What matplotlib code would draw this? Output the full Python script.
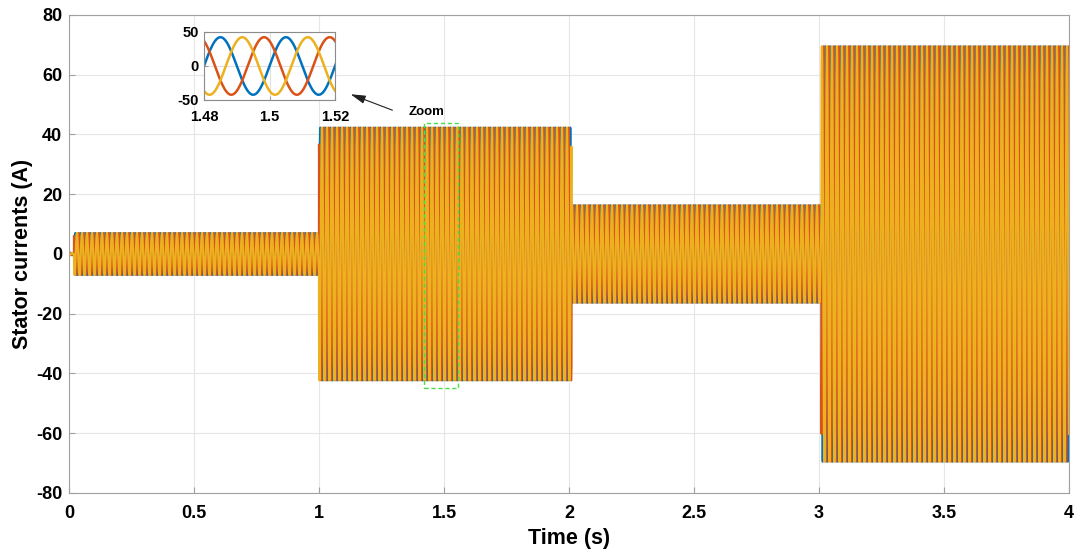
import numpy as np
import matplotlib

matplotlib.use("Agg", force=True)
import matplotlib.pyplot as plt
from matplotlib.patches import Rectangle

# load steps of the machine: start time (s) and peak stator current (A)
seg_start = [0.0, 0.02, 1.0, 2.01, 3.01]
seg_amp = [0.4, 7.0, 42.3, 16.3, 69.5]
t_end = 4.0
freq_hz = 50.0
phase_deg = [0.0, 120.0, -120.0]          # phases a, b, c
phase_colors = ["#0072BD", "#D95319", "#EDB120"]

x_ticks = [0, 0.5, 1, 1.5, 2, 2.5, 3, 3.5, 4]
x_tick_labels = ["0", "0.5", "1", "1.5", "2", "2.5", "3", "3.5", "4"]
y_ticks = [-80, -60, -40, -20, 0, 20, 40, 60, 80]

zoom_window = (1.48, 1.52)
zoom_ticks = [1.48, 1.5, 1.52]
zoom_tick_labels = ["1.48", "1.5", "1.52"]
zoom_yticks = [-50, 0, 50]
zoom_box = (1.42, 1.555, -45, 44)

plt.rcParams["font.family"] = ["Liberation Sans", "DejaVu Sans"]
plt.rcParams["font.weight"] = "bold"
plt.rcParams["axes.unicode_minus"] = False

t = np.linspace(0, t_end, 40001)
amp = np.zeros_like(t)
for start, a in zip(seg_start, seg_amp):
    amp[t >= start] = a
currents = [amp * np.sin(2 * np.pi * freq_hz * t + np.deg2rad(p)) for p in phase_deg]

fig = plt.figure(figsize=(10.75, 5.53), dpi=100)
ax = fig.add_axes([0.0642, 0.1085, 0.9302, 0.8644])
for cur, col in zip(currents, phase_colors):
    ax.plot(t, cur, color=col, lw=1.6)

ax.set_xlim(0, 4)
ax.set_ylim(-80, 80)
ax.set_xticks(x_ticks)
ax.set_xticklabels(x_tick_labels)
ax.set_yticks(y_ticks)
ax.tick_params(direction="in", labelsize=13, length=4, color="#a0a0a0")
ax.tick_params(axis="x", pad=9)
ax.tick_params(axis="y", pad=5)
ax.grid(True, color="#e6e6e6", lw=0.8)
ax.set_axisbelow(True)
for s in ax.spines.values():
    s.set_color("#a0a0a0")
ax.set_xlabel("Time (s)", fontsize=15.5, fontweight="bold", labelpad=4)
ax.set_ylabel("Stator currents (A)", fontsize=15.5, fontweight="bold", labelpad=2)

x0, x1, y0, y1 = zoom_box
ax.add_patch(Rectangle((x0, y0), x1 - x0, y1 - y0, fill=False, ec="#44e044",
                       ls=(0, (3, 2)), lw=1.0, zorder=5))
ax.annotate("", xy=(1.116, 53.8), xytext=(1.304, 47.8),
            arrowprops=dict(arrowstyle="-|>,head_length=0.9,head_width=0.25",
                            color="#202020", lw=0.8))
ax.text(1.43, 47.6, "Zoom", fontsize=9.5, fontweight="bold", ha="center", va="center")

# inset
axin = fig.add_axes([0.1898, 0.8192, 0.1219, 0.123])
mask = (t >= zoom_window[0] - 0.001) & (t <= zoom_window[1] + 0.001)
for cur, col in zip(currents, phase_colors):
    axin.plot(t[mask], cur[mask], color=col, lw=1.8)
axin.set_xlim(*zoom_window)
axin.set_ylim(-50, 50)
axin.set_xticks(zoom_ticks)
axin.set_xticklabels(zoom_tick_labels)
axin.set_yticks(zoom_yticks)
axin.tick_params(direction="in", labelsize=10.5, length=3, color="#a0a0a0")
axin.tick_params(axis="x", pad=7)
axin.tick_params(axis="y", pad=4)
axin.grid(True, color="#e0e0e0", lw=0.8)
axin.set_axisbelow(True)
for s in axin.spines.values():
    s.set_color("#8c8c8c")

fig.savefig("out.png", dpi=100)
plt.close(fig)
